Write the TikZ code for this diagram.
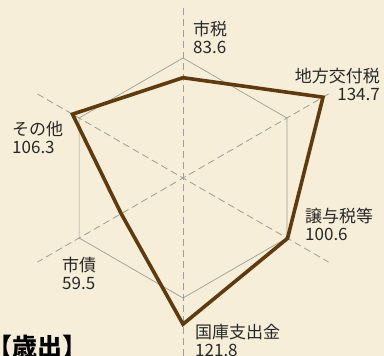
\documentclass[tikz,border=0pt]{standalone}
\usepackage{fontspec}
\newfontfamily\jpfont{Noto Sans CJK JP}
\usepackage{tikz}

\definecolor{paper}{RGB}{246,238,216}
\definecolor{chartbrown}{RGB}{94,58,16}
\definecolor{gridgray}{RGB}{158,158,150}
\definecolor{inkgray}{RGB}{40,40,40}

\begin{document}
\begin{tikzpicture}[x=1pt,y=1pt,yscale=-1,xscale=1,
    axisline/.style={draw=gridgray,line width=0.8pt,dash pattern={on 7pt off 4pt}},
    gridline/.style={draw=gridgray,line width=0.7pt},
    datapoly/.style={draw=chartbrown,line width=3.6pt,line join=miter},
    lbl/.style={inner sep=0pt,text=inkgray,font=\jpfont\fontsize{17}{18}\selectfont}]
				%set diagram size to 384 x 356
				\path [fill=paper] (0,0) rectangle (384,356);
				\clip (0,0) rectangle (384,356);

				%Centre and grid hexagon (value 100)
				\coordinate (ctr) at (183,178);
				\coordinate (g1) at (183,58);
				\coordinate (g2) at (286.9,118);
				\coordinate (g3) at (286.9,238);
				\coordinate (g4) at (183,298);
				\coordinate (g5) at (79.1,238);
				\coordinate (g6) at (79.1,118);
				%Axis ends
				\coordinate (a1) at (183,8);
				\coordinate (a4) at (183,356);
				\coordinate (a2) at (328.5,94);
				\coordinate (a5) at (37.5,262);
				\coordinate (a6) at (37.5,94);
				\coordinate (a3) at (328.5,262);

				%Straight Lines
				\draw [axisline] (a1) -- (a4);
				\draw [axisline] (a6) -- (a3);
				\draw [axisline] (a2) -- (a5);
				%Shape: Hexagon
				\draw [gridline] (g1) -- (g2) -- (g3) -- (g4) -- (g5) -- (g6) -- cycle;

				%Data points
				\coordinate (vShizei) at (183,77.7);
				\coordinate (vKoufu) at (323,97.2);
				\coordinate (vJoyo) at (287.5,238.4);
				\coordinate (vKokko) at (183,324.2);
				\coordinate (vShisai) at (121.2,213.7);
				\coordinate (vSonota) at (72.5,114.2);
				%Shape: Polygon
				\draw [datapoly] (vShizei) -- (vKoufu) -- (vJoyo) -- (vKokko) -- (vShisai) -- (vSonota) -- cycle;

				% Text Node
				\draw (193,20.5) node (tShizei) [anchor=north west,lbl,align=left] {市税\\83.6};
				% Text Node
				\draw (380,67.5) node (tKoufu) [anchor=north east,lbl,align=right] {地方交付税\\134.7};
				% Text Node
				\draw (305,207.5) node (tJoyo) [anchor=north west,lbl,align=left] {譲与税等\\100.6};
				% Text Node
				\draw (195,324.5) node (tKokko) [anchor=north west,lbl,align=left] {国庫支出金\\121.8};
				% Text Node
				\draw (62,256.5) node (tShisai) [anchor=north west,lbl,align=left] {市債\\59.5};
				% Text Node
				\draw (12,121.5) node (tSonota) [anchor=north west,lbl,align=left] {その他\\106.3};
				% Text Node
				\draw (-13,335) node (tTitle) [anchor=north west,inner sep=0pt,text=black,font=\jpfont\bfseries\fontsize{25}{27}\selectfont] {【歳出】};

\end{tikzpicture}
\end{document}
